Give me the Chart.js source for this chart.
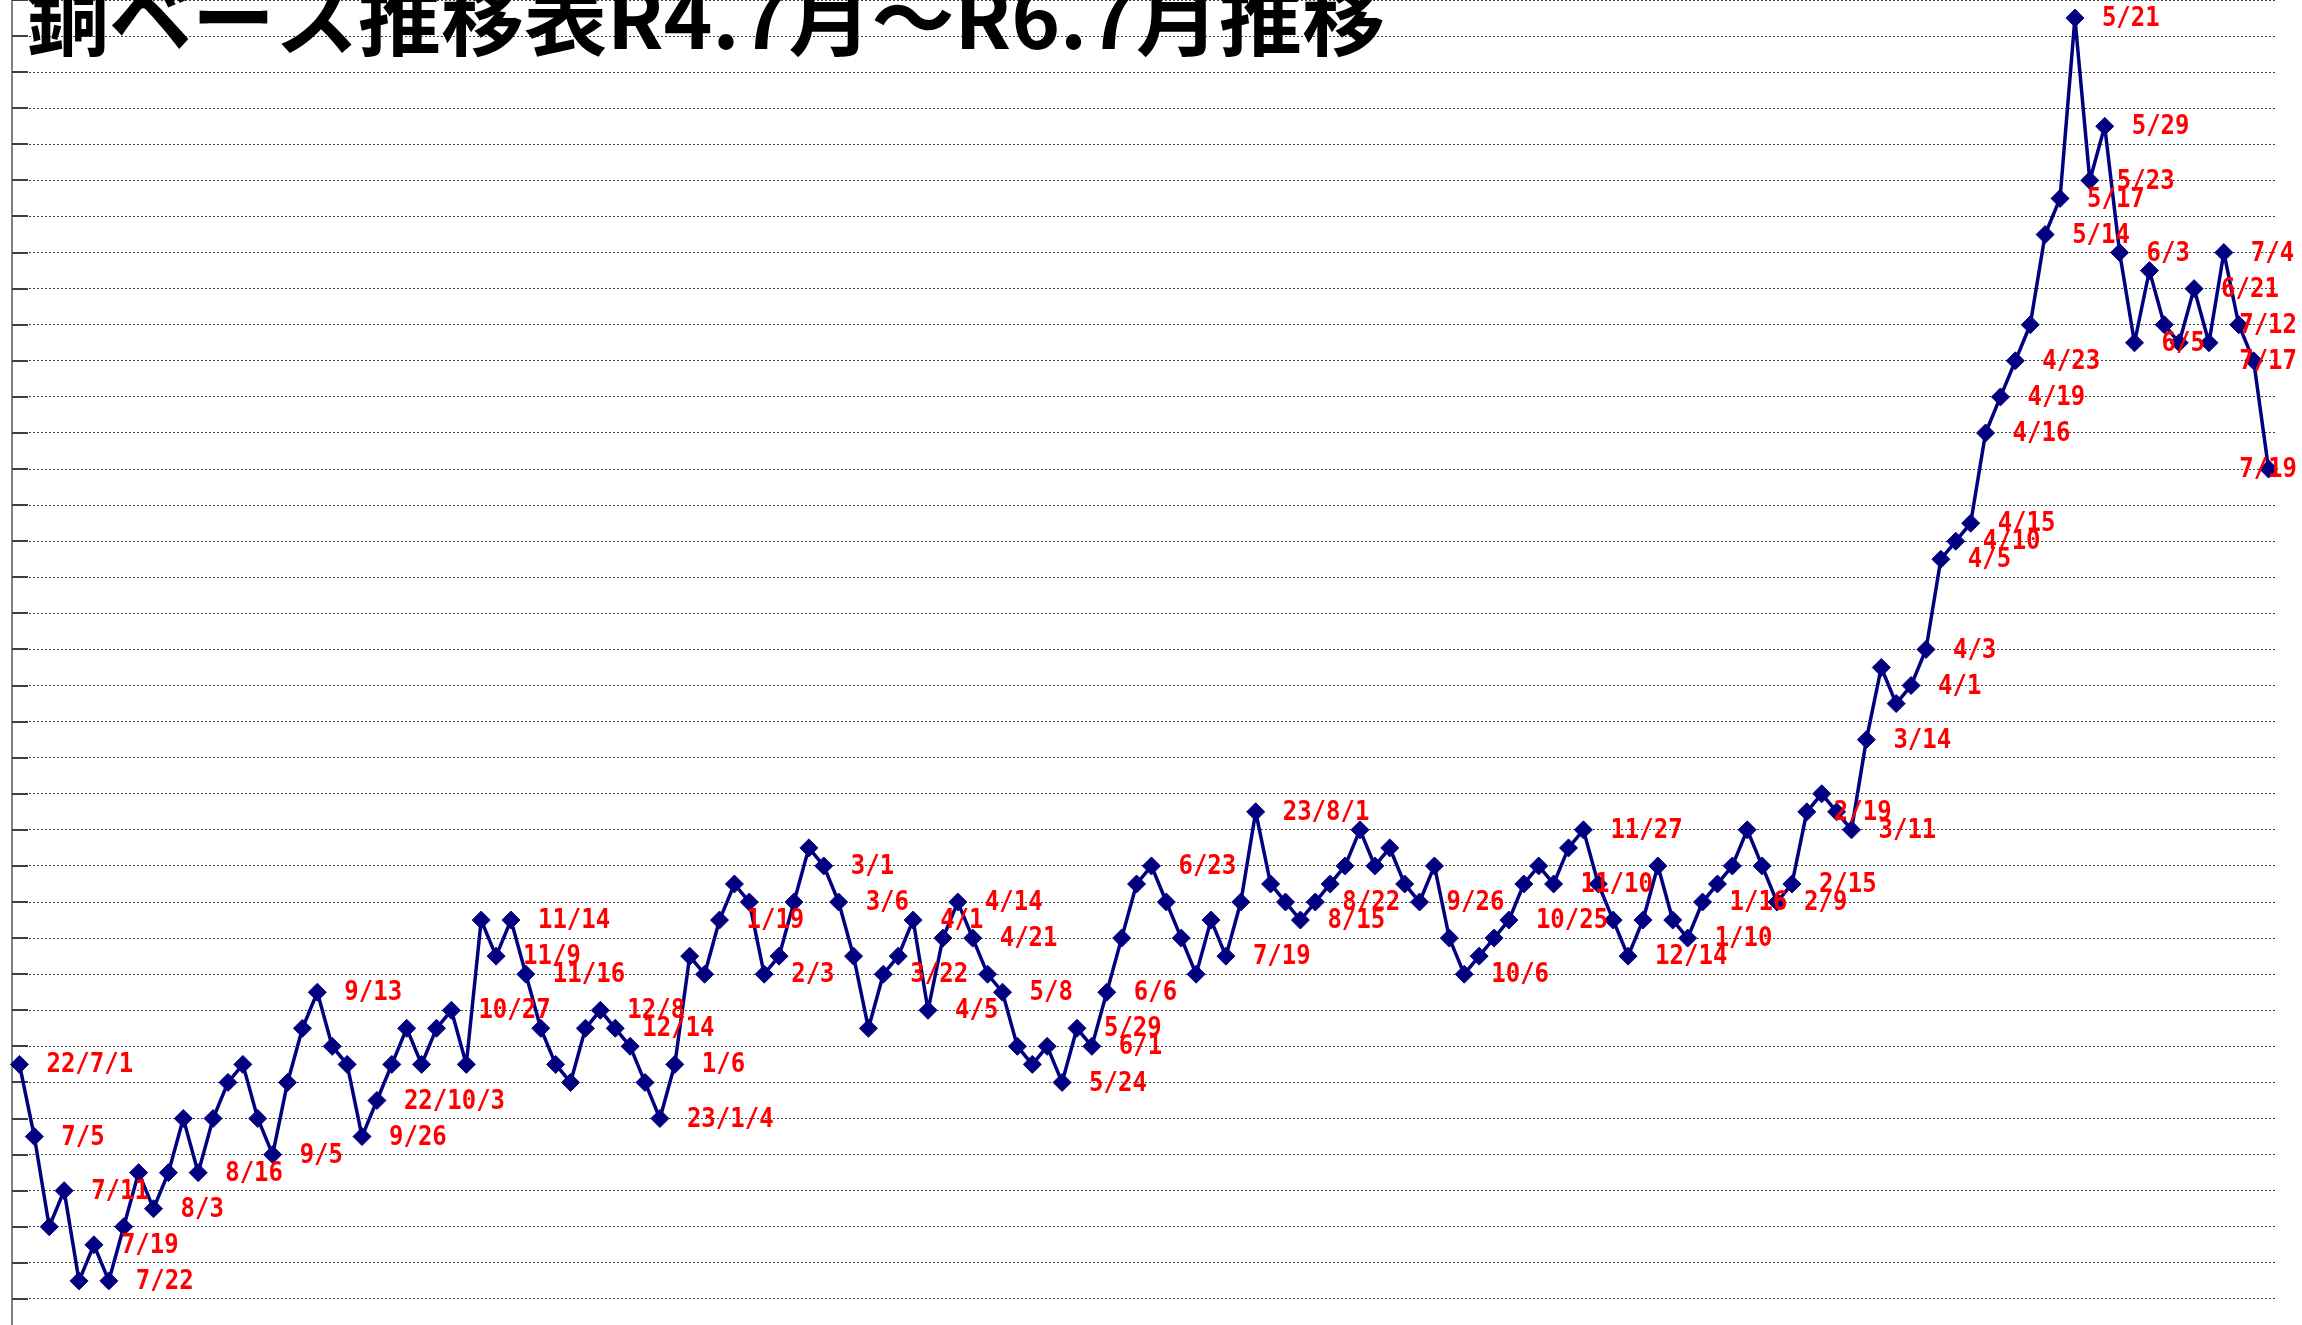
<!DOCTYPE html>
<html lang="ja">
<head>
<meta charset="utf-8">
<title>銅ベース推移表</title>
<script src="https://cdn.jsdelivr.net/npm/chart.js@4.4.1/dist/chart.umd.min.js"></script>
<style>
	html, body { margin: 0; padding: 0; background: #fff; overflow: hidden; }
	/* the sheet is cut off at the top and bottom: the canvas is taller than the window */
	canvas { display: block; position: absolute; left: 0; top: -10px; }
</style>
</head>
<body>
<canvas id="chart" width="2302" height="1355" style="width:2302px;height:1355px"></canvas>
<script>
// == 銅ベース推移表 R4.7月～R6.7月 ==
const chartTitle = '銅ベース推移表R4.7月～R6.7月推移';

// copper base price (円/kg), one entry per revision, 2022/7/1 .. 2024/7/19
const prices = [
	1170, 1130, 1080, 1100, 1050, 1070, 1050, 1080, 1110, 1090,
	1110, 1140, 1110, 1140, 1160, 1170, 1140, 1120, 1160, 1190,
	1210, 1180, 1170, 1130, 1150, 1170, 1190, 1170, 1190, 1200,
	1170, 1250, 1230, 1250, 1220, 1190, 1170, 1160, 1190, 1200,
	1190, 1180, 1160, 1140, 1170, 1230, 1220, 1250, 1270, 1260,
	1220, 1230, 1260, 1290, 1280, 1260, 1230, 1190, 1220, 1230,
	1250, 1200, 1240, 1260, 1240, 1220, 1210, 1180, 1170, 1180,
	1160, 1190, 1180, 1210, 1240, 1270, 1280, 1260, 1240, 1220,
	1250, 1230, 1260, 1310, 1270, 1260, 1250, 1260, 1270, 1280,
	1300, 1280, 1290, 1270, 1260, 1280, 1240, 1220, 1230, 1240,
	1250, 1270, 1280, 1270, 1290, 1300, 1270, 1250, 1230, 1250,
	1280, 1250, 1240, 1260, 1270, 1280, 1300, 1280, 1260, 1270,
	1310, 1320, 1310, 1300, 1350, 1390, 1370, 1380, 1400, 1450,
	1460, 1470, 1520, 1540, 1560, 1580, 1630, 1650, 1750, 1660,
	1690, 1620, 1570, 1610, 1580, 1570, 1600, 1570, 1620, 1580,
	1560, 1500
];

// revisions (1-based) that carry a date label in the sheet, and those labels
const markedRevisions = [
	1, 2, 4, 6, 7, 10, 13, 18, 21, 24, 25, 30, 33, 34, 35, 40, 41, 44, 45, 48,
	51, 55, 56, 59, 61, 62, 64, 65, 67, 71, 72, 73, 74, 77, 82, 84, 87, 88, 95, 98,
	101, 104, 106, 109, 113, 114, 119, 120, 121, 124, 125, 128, 129, 130, 131, 132, 133, 134, 135, 137,
	138, 139, 140, 141, 142, 143, 147, 149, 150, 151, 152
];
const markedDates = [
	'22/7/1', '7/5', '7/11', '7/19', '7/22', '8/3', '8/16', '9/5', '9/13', '9/26', '22/10/3', '10/27', '11/9', '11/14', '11/16', '12/8', '12/14', '23/1/4', '1/6', '1/19',
	'2/3', '3/1', '3/6', '3/22', '4/1', '4/5', '4/14', '4/21', '5/8', '5/24', '5/29', '6/1', '6/6', '6/23', '7/19', '23/8/1', '8/15', '8/22', '9/26', '10/6',
	'10/25', '11/10', '11/27', '12/14', '1/10', '1/16', '2/9', '2/15', '2/19', '3/11', '3/14', '4/1', '4/3', '4/5', '4/10', '4/15', '4/16', '4/19', '4/23', '5/14',
	'5/17', '5/21', '5/23', '5/29', '6/3', '6/5', '6/21', '7/4', '7/12', '7/17', '7/19'
];

// value axis (no tick labels shown in the sheet)
const yMin = 1020;
const yMax = 1760;
const yStep = 20;

const categories = prices.map(function(p, i) {
	let k = markedRevisions.indexOf(i + 1);
	return k >= 0 ? markedDates[k] : '';
});

// short solid tick marks drawn inside the plot, on each grid line
const innerTicks = {
	id: 'innerTicks',
	beforeDatasetsDraw(chart) {
		const ctx = chart.ctx, y = chart.scales.y, left = chart.chartArea.left;
		ctx.save();
		ctx.strokeStyle = '#404040';
		ctx.lineWidth = 2;
		y.ticks.forEach(function(t) {
			let py = Math.round(y.getPixelForValue(t.value));
			ctx.beginPath();
			ctx.moveTo(left, py);
			ctx.lineTo(left + 16, py);
			ctx.stroke();
		});
		ctx.restore();
	}
};

// red date labels to the right of the marked points
const dateLabels = {
	id: 'dateLabels',
	afterDatasetsDraw(chart) {
		const ctx = chart.ctx;
		const pts = chart.getDatasetMeta(0).data;
		ctx.save();
		ctx.font = 'bold 24px "DejaVu Sans Mono"';
		ctx.fillStyle = '#ff0000';
		ctx.textBaseline = 'middle';
		markedRevisions.forEach(function(rev, k) {
			const pt = pts[rev - 1];
			const text = markedDates[k];
			const w = ctx.measureText(text).width;
			let x = pt.x + 27;
			if (x + w > chart.width - 5)  // keep inside the sheet on the right
				x = chart.width - 5 - w;
			ctx.save();
			ctx.translate(x, pt.y + 1);
			ctx.scale(1, 1.14);
			ctx.fillText(text, 0, 0);
			ctx.restore();
		});
		ctx.restore();
	}
};

// big title, partly cut off at the top like the original sheet
const sheetTitle = {
	id: 'sheetTitle',
	afterDraw(chart) {
		const ctx = chart.ctx;
		ctx.save();
		ctx.font = 'bold 83px "Noto Sans CJK JP"';
		ctx.fillStyle = '#000';
		ctx.textBaseline = 'alphabetic';
		ctx.fillText(chartTitle, 26, 10 + 49);
		ctx.restore();
	}
};

new Chart(document.getElementById('chart'), {
	type: 'line',
	data: {
		labels: categories,
		datasets: [{
			label: '銅ベース',
			data: prices,
			borderColor: '#000080',
			borderWidth: 3.5,
			backgroundColor: '#000080',
			pointStyle: 'rectRot',
			pointRadius: 9,
			pointBorderWidth: 1,
			pointBorderColor: '#000080',
			pointBackgroundColor: '#000080',
			lineTension: 0,
			fill: false,
			clip: 12
		}]
	},
	options: {
		responsive: false,
		animation: false,
		events: [],
		layout: { padding: { top: 0, bottom: 0, left: 0, right: 26 } },
		plugins: {
			legend: { display: false },
			tooltip: { enabled: false },
			title: { display: false }
		},
		scales: {
			x: {
				type: 'category',
				offset: true,
				display: false,
				grid: { display: false }
			},
			y: {
				min: yMin,
				max: yMax,
				ticks: { display: false, stepSize: yStep },
				grid: {
					color: '#404040',
					lineWidth: 1,
					drawTicks: false
				},
				border: { display: true, color: '#808080', width: 2, dash: [2, 2] },
				afterFit: function(scale) { scale.width = 12; }
			}
		}
	},
	plugins: [innerTicks, dateLabels, sheetTitle]
});
</script>
</body>
</html>
